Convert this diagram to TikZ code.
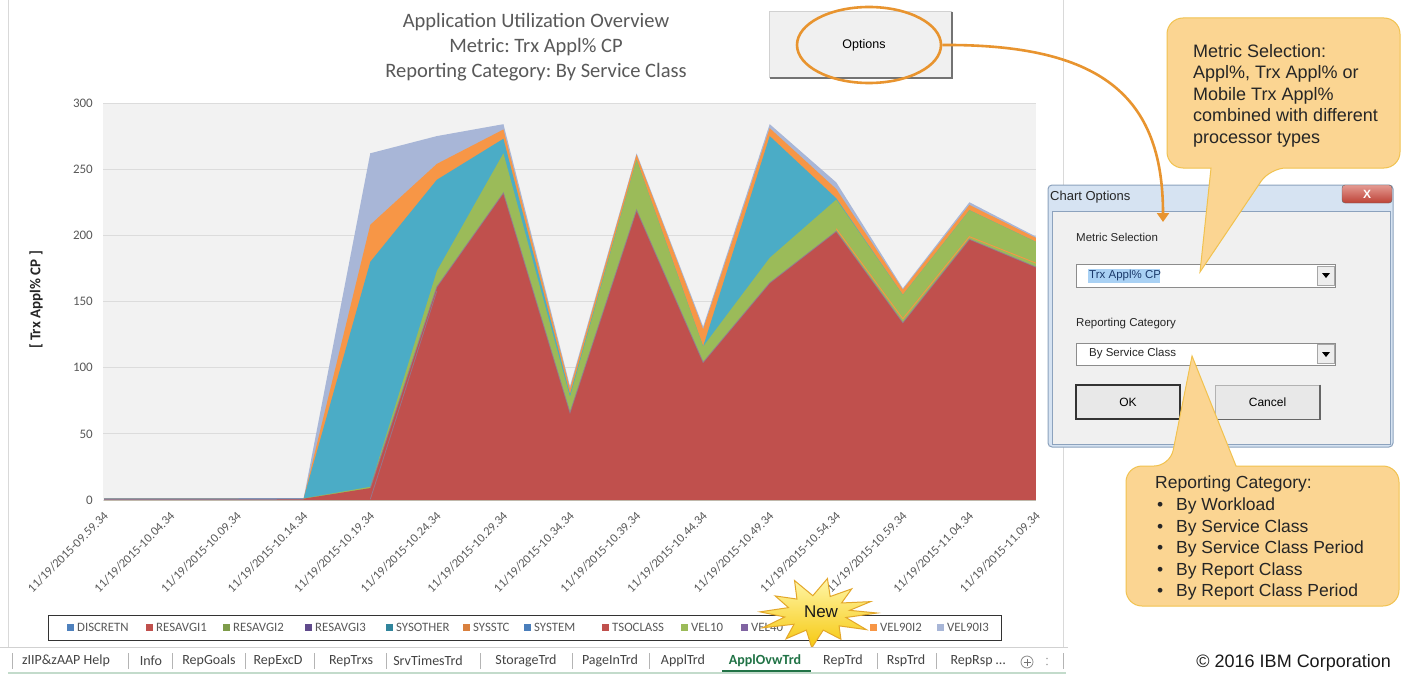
\documentclass[tikz,border=0pt]{standalone}
\usepackage{fontspec}
\setmainfont{Carlito}
\newfontfamily\arialf{Liberation Sans}
\usetikzlibrary{shapes.geometric,arrows.meta}
\frenchspacing

\definecolor{txtgray}{HTML}{595959}
\definecolor{plotbg}{HTML}{F2F2F2}
\definecolor{gridc}{HTML}{DCDCDC}
\definecolor{framec}{HTML}{D9D9D9}
\definecolor{cred}{HTML}{C0504D}
\definecolor{cgreen}{HTML}{9BBB59}
\definecolor{colive}{HTML}{7E9C4A}
\definecolor{cteal}{HTML}{4BACC6}
\definecolor{cteal2}{HTML}{31859C}
\definecolor{corange}{HTML}{F79646}
\definecolor{corange2}{HTML}{D9803E}
\definecolor{clav}{HTML}{A8B6D7}
\definecolor{cblue}{HTML}{4F81BD}
\definecolor{cblue2}{HTML}{4A7EBB}
\definecolor{cpurple}{HTML}{604A8C}
\definecolor{cpurple2}{HTML}{8064A2}
\definecolor{basel}{HTML}{8193B5}
\definecolor{edgec}{HTML}{8E7F98}
\definecolor{callfill}{HTML}{FBD592}
\definecolor{callline}{HTML}{F1C24F}
\definecolor{calltext}{HTML}{262626}
\definecolor{arroworange}{HTML}{E8942F}
\definecolor{framebl}{HTML}{D6E3F2}
\definecolor{framebd}{HTML}{8CA2BD}
\definecolor{bodyc}{HTML}{F0F0F0}
\definecolor{selc}{HTML}{A9D1F4}
\definecolor{seltext}{HTML}{1B3A6B}
\definecolor{xtop}{HTML}{E49A92}
\definecolor{xbot}{HTML}{BD4236}
\definecolor{staryel1}{HTML}{FFF6A8}
\definecolor{staryel2}{HTML}{F6C80F}
\definecolor{stardraw}{HTML}{E3A72A}
\definecolor{tabgray}{HTML}{444444}
\definecolor{tabgreen}{HTML}{217346}
\definecolor{tabstrip}{HTML}{C3DBCB}
\definecolor{sepgray}{HTML}{B4B4B4}

\newcommand\fsz[2]{\fontsize{#1}{#2}\selectfont}

\begin{document}
\begin{tikzpicture}[x=1pt,y=-1pt,
  every node/.style={inner sep=0pt},
  xlab/.style={anchor=east, rotate=45, text=txtgray, font=\fsz{12.4}{15}},
  ylab/.style={anchor=east, text=txtgray, font=\fsz{13}{15}},
  legtxt/.style={anchor=west, text=txtgray, font=\fsz{12.8}{14}},
  tabtxt/.style={text=tabgray, font=\fsz{14}{16}},
  tabsep/.style={draw=sepgray, line width=0.8pt},
  dlgtxt/.style={anchor=west, font=\arialf\fsz{11.5}{14}, text=black!85},
  dropbox/.style={draw=black!45, fill=white, line width=1pt, minimum width=259pt},
  dropbtn/.style={draw=black!35, fill=black!7, line width=0.6pt, minimum width=17pt, minimum height=19pt},
  btnbox/.style={fill=black!9, minimum width=104pt, minimum height=34pt, font=\arialf\fsz{12}{14}},
  calltxt/.style={anchor=north west, align=left, text=calltext},
  callshape/.style={fill=callfill, draw=callline, line width=1pt},
  optarrow/.style={draw=arroworange, line width=2.6pt, -{Triangle[length=9pt,width=12pt]}},
  ]
\useasboundingbox (0,0) rectangle (1402,674);
\fill[white] (0,0) rectangle (1402,674);

% chart area frame
\draw[framec, line width=1pt] (8,0) -- (8,647);
\draw[framec, line width=1pt] (1063,0) -- (1063,647);

% plot area, stacked areas
\begin{scope}[shift={(104,500)}, x=66.57pt, y=1.3233pt]
  \fill[plotbg] (-0.015,0) rectangle (14,300);
  \foreach \v in {50,100,...,300} \draw[gridc, line width=0.8pt] (-0.015,\v) -- (14,\v);
  \draw[gridc, line width=1pt] (-0.015,0) -- (14,0);
  \fill[clav] (0,0) -- (0,1.2) -- (1,1.2) -- (2,1.2) -- (3,1.5) -- (4,262) -- (5,275) -- (6,284) -- (7,86) -- (8,262) -- (9,131) -- (10,284) -- (11,240) -- (12,160) -- (13,225) -- (14,199) -- (14,0) -- cycle;
  \fill[corange] (0,0) -- (0,1.2) -- (1,1.2) -- (2,1.2) -- (3,1.4) -- (4,208) -- (5,254) -- (6,280) -- (7,84) -- (8,261) -- (9,129) -- (10,281) -- (11,235) -- (12,159) -- (13,223) -- (14,198) -- (14,0) -- cycle;
  \fill[cteal] (0,0) -- (0,1.1) -- (1,1.1) -- (2,1.1) -- (3,1.3) -- (4,180) -- (5,242) -- (6,273) -- (7,80) -- (8,257) -- (9,116) -- (10,275) -- (11,228) -- (12,155) -- (13,219) -- (14,195) -- (14,0) -- cycle;
  \fill[cgreen] (0,0) -- (0,1) -- (1,1) -- (2,1) -- (3,1.2) -- (4,10) -- (5,173) -- (6,262) -- (7,78) -- (8,257) -- (9,116) -- (10,183) -- (11,227) -- (12,155) -- (13,219) -- (14,195) -- (14,0) -- cycle;
  \fill[cred] (0,0) -- (0,0.8) -- (1,0.8) -- (2,0.8) -- (3,1) -- (4,9) -- (5,161) -- (6,232) -- (7,66) -- (8,219) -- (9,104) -- (10,164) -- (11,203) -- (12,134) -- (13,197) -- (14,176) -- (14,0) -- cycle;
  \draw[edgec, line width=0.8pt, opacity=0.8] (4,0.5) -- (5,158);
  \draw[edgec, line width=0.9pt, opacity=0.8] (4,9) -- (5,161) -- (6,232) -- (7,66) -- (8,219) -- (9,104) -- (10,164) -- (11,203) -- (12,134) -- (13,197) -- (14,176);
  \draw[corange, line width=0.9pt] (11,205) -- (12,137) -- (13,199) -- (14,179);
  \draw[basel, line width=1.3pt] (0,0.7) -- (3,0.9);
\end{scope}

% value axis
\foreach \v in {0,50,100,150,200,250,300}
  \node[ylab] (yl\v) at (93,{500-\v*1.3233}) {\v};
\node[rotate=90, font=\bfseries\fsz{15}{17}, text=black!85] (ytitle) at (36,300) {[ Trx Appl\% CP ]};

% category axis
\foreach \i/\t in {0/09.59.34,1/10.04.34,2/10.09.34,3/10.14.34,4/10.19.34,5/10.24.34,6/10.29.34,7/10.34.34,8/10.39.34,9/10.44.34,10/10.49.34,11/10.54.34,12/10.59.34,13/11.04.34,14/11.09.34}
  \node[xlab] (xl\i) at ({104+\i*66.57+2},514) {11/19/2015-\t};

% title
\node[align=center, text=txtgray, font=\fsz{20.5}{25}] (title) at (536,47.5)
  {Application Utilization Overview\\Metric: Trx Appl\% CP\\Reporting Category: By Service Class};

% legend
\node[draw=black!80, line width=1pt, minimum width=953pt, minimum height=25pt] (legend) at (524.5,627.5) {};
\foreach \x/\c/\t [count=\k] in {67/cblue/DISCRETN,146/cred/RESAVGI1,223/colive/RESAVGI2,305/cpurple/RESAVGI3,386/cteal2/SYSOTHER,463/corange2/SYSSTC,524/cblue2/SYSTEM,602/cred/TSOCLASS,681/cgreen/VEL10,741/cpurple2/VEL40,870/corange/VEL90I2,937/clav/VEL90I3}{
  \fill[\c] (\x,624) rectangle +(7,7);
  \node[legtxt] (lg\k) at ({\x+10},627.5) {\t};
}

% "New" burst
\begin{scope}[shift={(817,613)}]
  \path[draw=stardraw, line width=1pt, top color=staryel1, bottom color=staryel2]
    ({60*cos(0)},{35*sin(0)})
    \foreach \a/\r in {15/0.5,30/0.95,45/0.52,62/0.85,78/0.5,95/1.0,110/0.52,125/0.9,140/0.5,155/1.0,168/0.55,182/0.95,198/0.5,215/0.85,230/0.52,248/1.0,262/0.5,280/1.0,295/0.52,310/0.9,325/0.5,340/0.95,352/0.55}
    { -- ({60*\r*cos(\a)},{35*\r*sin(\a)}) } -- cycle;
\end{scope}
\node[font=\arialf\fsz{17}{20}, text=black!90] (newlbl) at (821,612) {New};

% sheet tabs
\fill[white] (8,648) rectangle (1066,672);
\draw[black!18, line width=1pt] (0,647.5) -- (1068,647.5);
\fill[tabstrip] (8,672) rectangle (1066,674);
\fill[white] (719,648) rectangle (814,672);
\draw[tabgreen, line width=2pt] (722,671) -- (811,671);
\foreach \x in {12,128,172,245,314,386,480,572,649,877,936,1063}
  \draw[tabsep] (\x,653) -- (\x,669);
\foreach \x/\t [count=\k] in {66/zIIP\&zAAP Help,151/Info,209/RepGoals,278/RepExcD,351/RepTrxs,428/SrvTimesTrd,526/StorageTrd,610/PageInTrd,683/ApplTrd,843/RepTrd,906/RspTrd}
  \node[tabtxt] (tab\k) at (\x,661) {\t};
\node[tabtxt] (tabmore) at (978,661) {RepRsp\ \ldots};
\node[text=tabgreen, font=\bfseries\fsz{14}{16}] (tabact) at (765,661) {ApplOvwTrd};
\node[circle, draw=black!45, line width=0.8pt, minimum size=12pt] (addtab) at (1027,662) {};
\draw[black!55, line width=0.9pt] (1023.5,662) -- (1030.5,662) (1027,658.5) -- (1027,665.5);
\fill[black!35] (1047,658.5) circle (0.9) (1047,664.5) circle (0.9);

% Options button
\node[fill=black!6, minimum width=182pt, minimum height=66pt] (optbtn) at (861,45) {};
\draw[black!18, line width=1pt] (optbtn.south west) -- (optbtn.north west) -- (optbtn.north east);
\draw[black!55, line width=1.6pt] (optbtn.north east) -- (optbtn.south east) -- (optbtn.south west);
\node[font=\arialf\fsz{12.5}{15}, text=black] (optlbl) at (864,45) {Options};
\node[ellipse, draw=arroworange, line width=2.6pt, minimum width=144pt, minimum height=76pt] (optell) at (869,45) {};

% Chart Options dialog
\node[fill=framebl, draw=framebd, line width=1pt, rounded corners=4pt, minimum width=345pt, minimum height=262pt] (dlg) at (1220.5,316) {};
\node[fill=bodyc, draw=framebd, line width=0.8pt, minimum width=338pt, minimum height=233pt] (dlgbody) at (1221,327.5) {};
\node[anchor=west, font=\arialf\fsz{13}{15}, text=black!85] (dlgtitle) at (1050,197) {Chart Options};
\node[draw=black!60, top color=xtop, bottom color=xbot, rounded corners=3pt, minimum width=50pt, minimum height=18pt, font=\arialf\bfseries\fsz{12}{14}, text=white] (dlgclose) at (1367,194) {X};
\node[dlgtxt] (metlbl) at (1076,237) {Metric Selection};
\node[dropbox, minimum height=23pt] (dd1) at (1205.5,275.5) {};
\node[dropbtn] (dd1btn) at (1325.5,275.5) {};
\fill[black] (1322,273) -- (1330,273) -- (1326,278) -- cycle;
\fill[selc] (1088,269) rectangle (1160,283);
\node[dlgtxt, text=seltext] (dd1txt) at (1089,276) {Trx Appl\% CP};
\node[dlgtxt] (replbl) at (1076,324) {Reporting Category};
\node[dropbox, minimum height=22pt] (dd2) at (1205.5,354) {};
\node[dropbtn] (dd2btn) at (1325.5,354) {};
\fill[black] (1322,352) -- (1330,352) -- (1326,357) -- cycle;
\node[dlgtxt] (dd2txt) at (1089,354) {By Service Class};
\node[btnbox, draw=black!80, line width=1.8pt] (okbtn) at (1128,402) {OK};
\node[btnbox, draw=black!30, line width=0.8pt] (cancelbtn) at (1267.5,402) {Cancel};
\draw[black!60, line width=1.4pt] (cancelbtn.north east) -- (cancelbtn.south east) -- (cancelbtn.south west);

% callouts
\path[callshape] [rounded corners=16pt] (1300,18) -- (1400,18) -- (1400,168) -- (1270,168) [sharp corners] -- (1200,272) -- (1211,168) [rounded corners=16pt] -- (1167,168) -- (1167,18) -- cycle;
\node[calltxt, font=\arialf\fsz{18}{21.5}] (metnote) at (1193,44)
  {Metric Selection:\\Appl\%, Trx Appl\% or\\Mobile Trx Appl\%\\combined with different\\processor types};
\path[callshape] [rounded corners=16pt] (1300,606) -- (1126,606) -- (1126,466) -- (1170,466) [sharp corners] -- (1192,356) -- (1236,466) [rounded corners=16pt] -- (1399,466) -- (1399,606) -- cycle;
\node[calltxt, font=\arialf\fsz{17.5}{21.6}] (repnote) at (1155,476)
  {Reporting Category:\\
   \makebox[21pt][l]{\hspace{2pt}\textbullet}By Workload\\
   \makebox[21pt][l]{\hspace{2pt}\textbullet}By Service Class\\
   \makebox[21pt][l]{\hspace{2pt}\textbullet}By Service Class Period\\
   \makebox[21pt][l]{\hspace{2pt}\textbullet}By Report Class\\
   \makebox[21pt][l]{\hspace{2pt}\textbullet}By Report Class Period};

% link from the Options button to the dialog
\coordinate (arrtip) at (1163,222);
\draw[optarrow] (optell.east) .. controls (1100,44) and (1163,95) .. (arrtip);

\node[anchor=east, font=\arialf\fsz{18}{21}, text=black!90] (copyr) at (1391,663) {© 2016 IBM Corporation};
\end{tikzpicture}
\end{document}
